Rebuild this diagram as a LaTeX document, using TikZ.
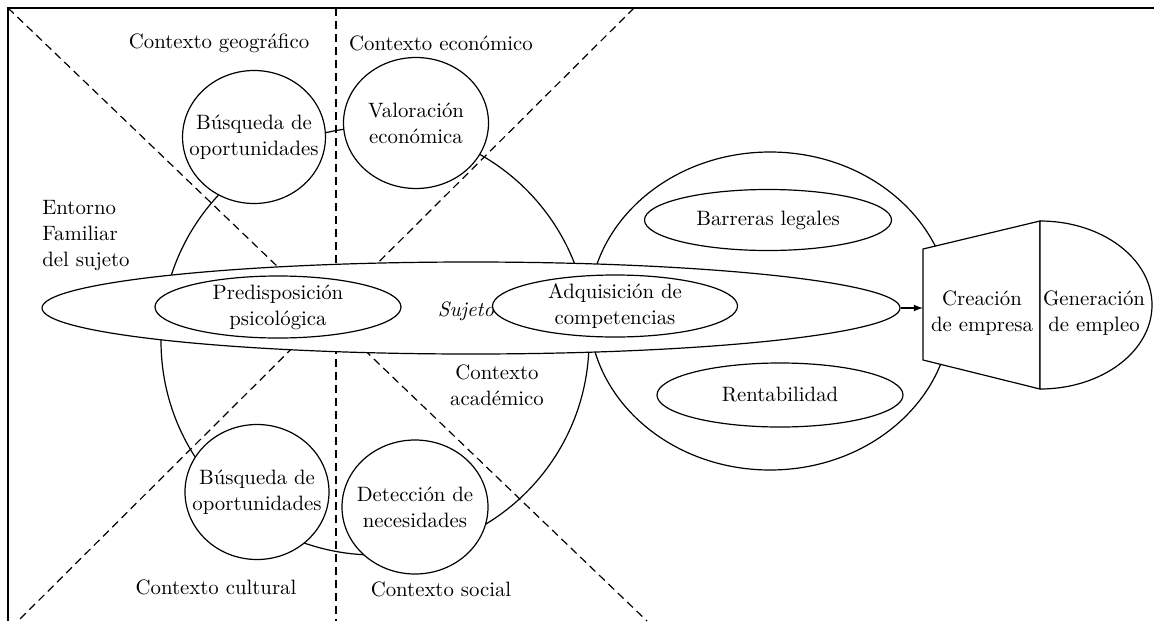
\documentclass[tikz,border=0pt]{standalone}
\usetikzlibrary{shapes.geometric}

\tikzset{
  circulo/.style={draw, ellipse, fill=white, inner sep=-7pt, align=center},
  ovalo/.style={draw, ellipse, fill=white, inner sep=-3pt, align=center},
  corte/.style={dash pattern=on 4pt off 2.5pt},
}

\begin{document}
\begin{tikzpicture}[x=0.5pt,y=-0.5pt,line width=0.6pt,font=\fontsize{10.4}{13}\selectfont]
    \useasboundingbox (0,0) rectangle (1154,621);

    % Marco
    \draw (1154,8) -- (8,8) -- (8,621);

    % Lineas de corte
    \draw[corte] (8,8) -- (647,621);
    \draw[corte] (634,8) -- (18,621);
    \draw[corte] (336,8) -- (336,621);

    % Centros
    \coordinate (CA) at (375,341);
    \coordinate (CD) at (770,311);

    % Radios
    \def\rA{107pt}
    \def\rDx{90.5pt}
    \def\rDy{79.5pt}

    % Circulos grandes
    \draw (CA) circle [radius=\rA];
    \draw (CD) ellipse [x radius=\rDx, y radius=\rDy];

    % Contextos
    \node[circulo, minimum width=71pt, minimum height=66.5pt] (busqA) at (254,137) {Búsqueda de\\oportunidades};
    \node[circulo, minimum width=72.5pt, minimum height=65.5pt] (valor) at (416,123) {Valoración\\económica};
    \node[circulo, minimum width=72pt, minimum height=67.5pt] (busqB) at (257,492) {Búsqueda de\\oportunidades};
    \node[circulo, minimum width=73pt, minimum height=67pt] (detec) at (415,507) {Detección de\\necesidades};

    % Sujeto
    \node[ovalo, minimum width=429pt, minimum height=46pt] (sujeto) at (471,308) {};
    \node at (466,311) {\textit{Sujeto}};
    \node[ovalo, minimum width=123pt, minimum height=31pt] (predis) at (278,307) {Predisposición\\psicológica};
    \node[ovalo, minimum width=122.5pt, minimum height=31pt] (adqui) at (615,306) {Adquisición de\\competencias};

    % Barreras
    \node[ovalo, minimum width=123.5pt, minimum height=30.5pt] (barre) at (768,220) {Barreras legales};
    \node[ovalo, minimum width=123pt, minimum height=32pt] (renta) at (780,395) {Rentabilidad};

    % Empresa y empleo
    \draw[fill=white] (923,249) -- (1040,221) -- (1040,389) -- (923,360) -- cycle;
    \draw[fill=white] (1040,221) arc[start angle=90, end angle=-90, x radius=56pt, y radius=42pt] -- cycle;
    \coordinate (creaW) at (923,308);
    \node[align=center] (crea) at (982,313) {Creación\\de empresa};
    \node[align=center] (empleo) at (1094,313) {Generación\\de empleo};
    \draw[-latex] (sujeto.east) -- (creaW);

    % Rotulos
    \node (geo) at (219,43) {Contexto geográfico};
    \node (eco) at (441,43) {Contexto económico};
    \node[align=left, anchor=west] (fam) at (35,236) {Entorno\\Familiar\\del sujeto};
    \node[align=center] (acad) at (497,385) {Contexto\\académico};
    \node (cult) at (216,587) {Contexto cultural};
    \node (soc) at (441,589) {Contexto social};
\end{tikzpicture}
\end{document}
